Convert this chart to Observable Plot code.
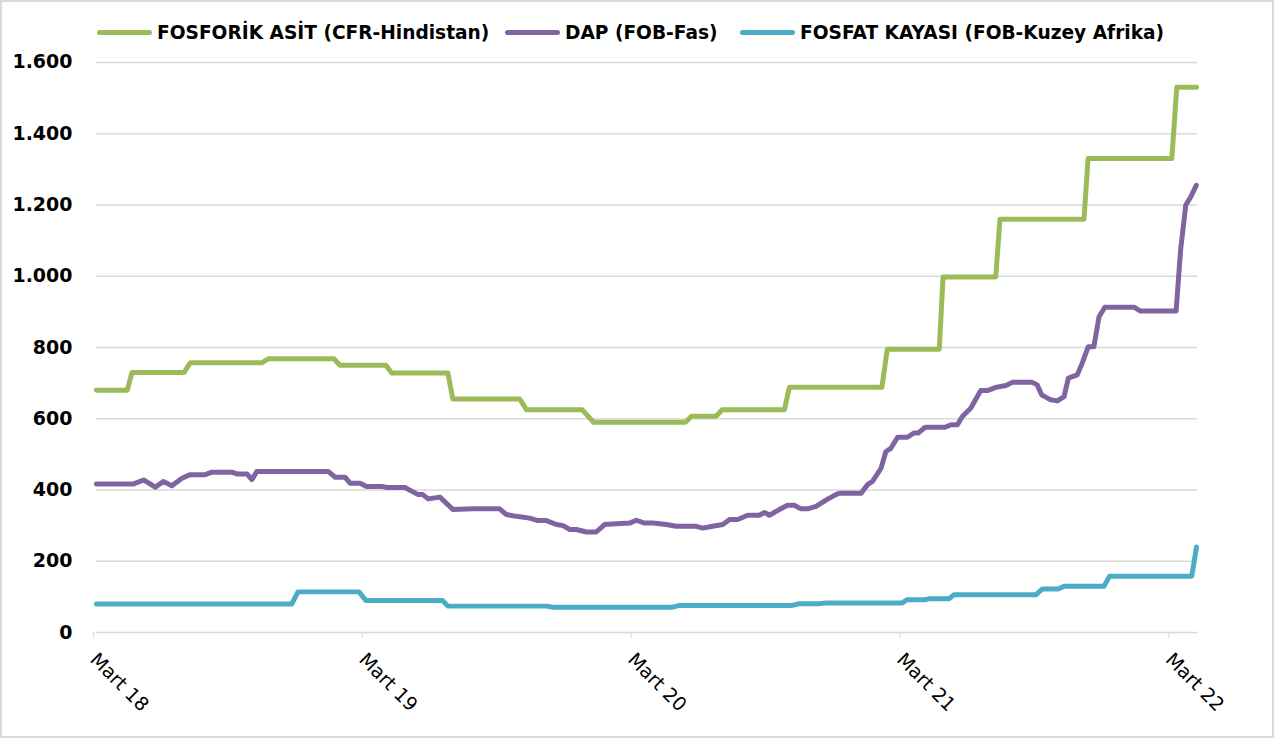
<!DOCTYPE html>
<html><head><meta charset="utf-8">
<script src="https://cdn.jsdelivr.net/npm/d3@7"></script>
<script src="https://cdn.jsdelivr.net/npm/@observablehq/plot@0.6"></script>
<style>
html,body{margin:0;padding:0;background:#fff;}
#wrap{position:relative;width:1274px;height:738px;box-sizing:border-box;border:2px solid #d9d9d9;overflow:hidden;font-family:"DejaVu Sans",sans-serif;}
#chart{position:absolute;left:-2px;top:-2px;}
.item{position:absolute;top:20px;display:flex;align-items:center;font-weight:bold;font-size:18.6px;color:#000;white-space:nowrap;}
.sw{width:55px;height:5px;border-radius:3px;margin-right:5px;}
</style></head>
<body>
<div id="wrap"><div id="legend"></div><div id="chart"></div></div>
<script>
// months since March 2018, value (USD/ton)
const seriesNames = ["FOSFORİK ASİT (CFR-Hindistan)", "DAP (FOB-Fas)", "FOSFAT KAYASI (FOB-Kuzey Afrika)"];
const seriesColors = ["#9BBB59", "#8064A2", "#4BACC6"];
const acidPoints = [[0,680],[1.38,680],[1.59,730],[3.92,730],[4.19,757],[7.38,757],[7.67,768],[10.61,768],[10.87,750],[12.92,750],[13.18,728],[15.69,728],[15.91,655],[18.9,655],[19.2,625],[21.69,625],[22.19,590],[26.29,590],[26.56,607],[27.66,607],[27.93,625],[30.71,625],[30.93,688],[35.06,688],[35.3,795],[37.62,795],[37.79,998],[40.14,998],[40.33,1160],[44.08,1160],[44.26,1330],[48.0,1330],[48.22,1530],[49.11,1530]];
const dapPoints = [[0,417],[1.66,417],[2.11,428],[2.63,408],[2.99,424],[3.37,412],[3.82,433],[4.19,443],[4.86,443],[5.16,450],[6.05,450],[6.27,445],[6.72,445],[6.94,429],[7.16,452],[10.35,452],[10.65,436],[11.1,436],[11.32,419],[11.77,419],[12.06,410],[12.73,410],[12.96,407],[13.77,407],[14.36,387],[14.57,387],[14.81,375],[15.33,380],[15.92,345],[16.8,347],[18.0,347],[18.3,331],[18.75,326],[19.34,321],[19.71,314],[20.09,314],[20.53,303],[20.83,300],[21.13,289],[21.42,289],[21.87,282],[22.31,282],[22.68,303],[23.21,305],[23.8,307],[24.1,315],[24.47,307],[24.84,307],[25.44,303],[25.88,298],[26.77,298],[27.07,293],[27.51,298],[27.96,303],[28.26,317],[28.63,317],[29.07,329],[29.59,329],[29.82,337],[30.04,329],[30.48,345],[30.85,357],[31.15,357],[31.45,347],[31.75,347],[32.12,354],[32.6,373],[32.86,382],[33.01,387],[33.16,391],[34.13,391],[34.42,415],[34.64,424],[35.02,461],[35.24,508],[35.46,517],[35.76,548],[36.2,548],[36.5,560],[36.69,560],[36.99,576],[37.88,576],[38.14,583],[38.43,583],[38.65,606],[39.03,630],[39.47,679],[39.77,679],[40.14,688],[40.59,693],[40.88,702],[41.77,702],[41.99,695],[42.19,667],[42.59,653],[42.89,650],[43.19,662],[43.38,714],[43.78,723],[44.0,756],[44.27,802],[44.52,802],[44.75,886],[45.01,913],[46.31,913],[46.6,902],[48.19,902],[48.39,1073],[48.62,1199],[48.84,1222],[49.09,1255]];
const rockPoints = [[0,80],[8.72,80],[9.0,114],[11.72,114],[12.03,90],[15.45,90],[15.69,74],[20.09,74],[20.37,71],[25.72,71],[26.03,76],[31.06,76],[31.38,81],[32.27,81],[32.57,83],[35.97,83],[36.19,92],[36.99,92],[37.17,95],[38.06,95],[38.28,106],[41.94,106],[42.21,122],[42.92,122],[43.19,130],[44.97,130],[45.22,158],[48.89,158],[49.1,240]];
const xTickMonths = [0, 12, 24, 36, 48];
const xTickLabels = ["Mart 18", "Mart 19", "Mart 20", "Mart 21", "Mart 22"];
const yTicks = [0, 200, 400, 600, 800, 1000, 1200, 1400, 1600];

const rows = [];
[acidPoints, dapPoints, rockPoints].forEach((pts, i) => pts.forEach(([m, v]) => rows.push({m, v, s: seriesNames[i]})));

const fmtY = d => d >= 1000 ? d3.format(",")(d).replace(",", ".") : String(d);

const chart = Plot.plot({
  width: 1274, height: 738,
  marginTop: 62, marginLeft: 96, marginRight: 75, marginBottom: 105,
  style: {fontFamily: "'DejaVu Sans', sans-serif", background: "transparent"},
  x: {domain: [0, 49.15]},
  y: {domain: [0, 1600]},
  color: {domain: seriesNames, range: seriesColors},
  marks: [
    Plot.gridY(yTicks, {stroke: "#d9d9d9", strokeOpacity: 1, strokeWidth: 1.5}),
    Plot.axisY(yTicks, {label: null, tickSize: 0, tickPadding: 24, tickFormat: fmtY, fontSize: 19, fontWeight: "bold", fill: "#000"}),
    Plot.axisX(xTickMonths, {label: null, tickSize: 6, stroke: "#d9d9d9", tickRotate: 45, fontSize: 19, fill: "#000", tickPadding: 18, dx: -3,
      tickFormat: (d) => xTickLabels[xTickMonths.indexOf(d)]}),
    Plot.line(rows, {x: "m", y: "v", z: "s", stroke: "s", strokeWidth: 5, strokeLinejoin: "round", strokeLinecap: "round"})
  ]
});
document.getElementById("chart").appendChild(chart);

const lg = document.getElementById("legend");
const legendLeft = [95, 503, 738];
seriesNames.forEach((n, i) => {
  const it = document.createElement("div"); it.className = "item"; it.style.left = legendLeft[i] + "px";
  const sw = document.createElement("div"); sw.className = "sw"; sw.style.background = seriesColors[i];
  const t = document.createElement("span"); t.textContent = n;
  it.appendChild(sw); it.appendChild(t); lg.appendChild(it);
});
</script>
</body></html>
